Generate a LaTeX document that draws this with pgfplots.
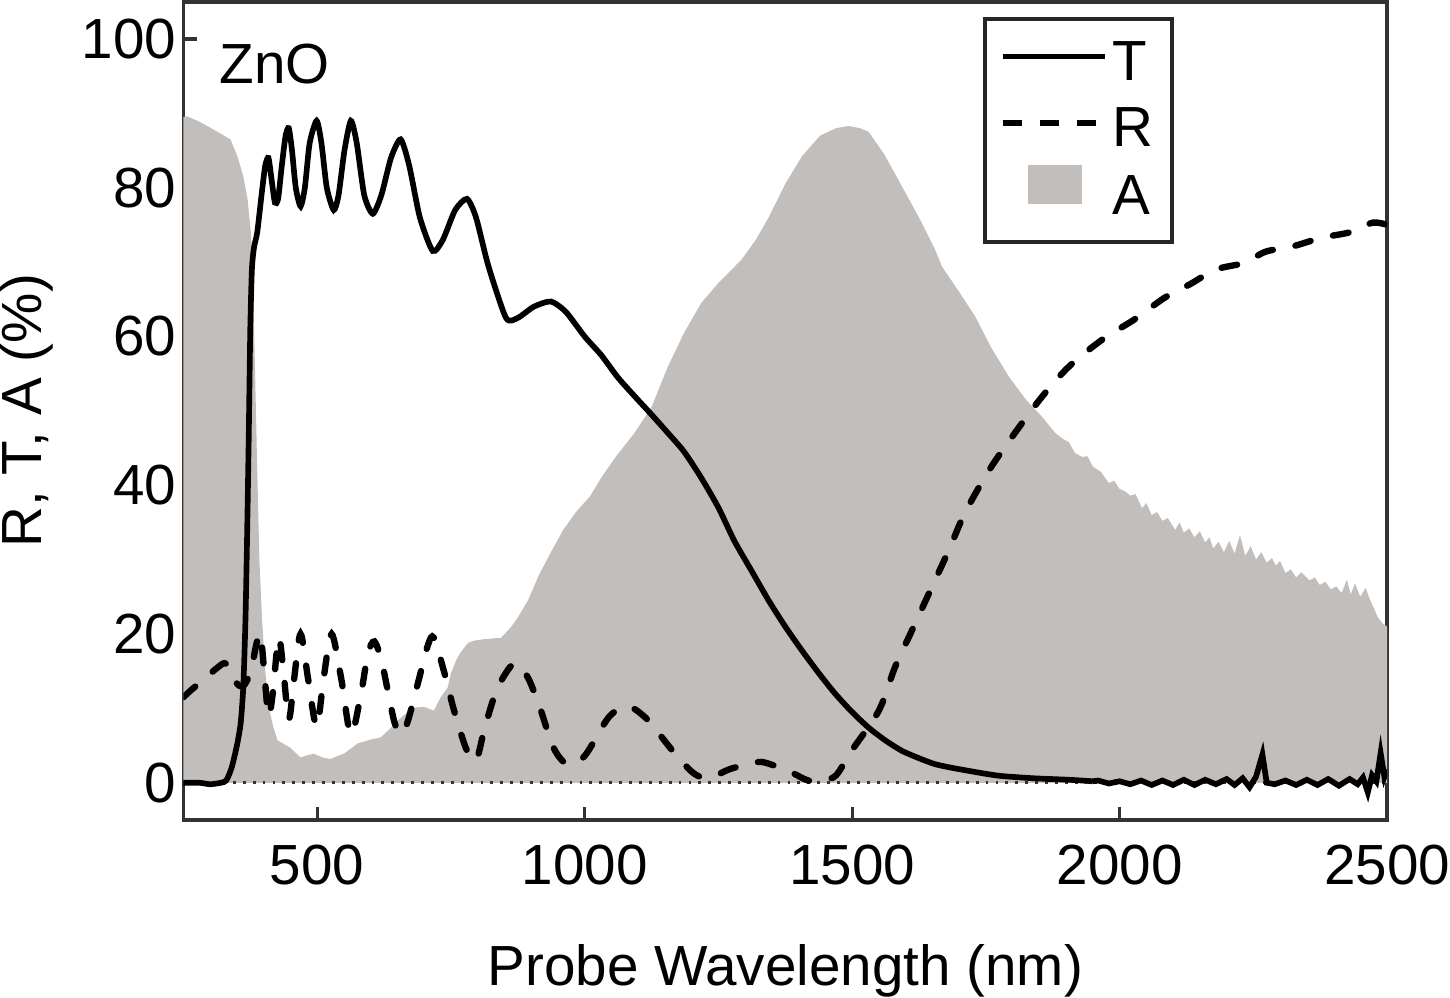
\documentclass[border=0pt]{standalone}
\usepackage{fontspec}
\setmainfont{Liberation Sans}
\usepackage{pgfplots}
\pgfplotsset{compat=1.18}
\definecolor{agray}{RGB}{193,190,188}

\begin{document}
\begin{tikzpicture}
\begin{axis}[
  scale only axis,
  width=11.96cm, height=8.13cm,
  xmin=250, xmax=2500, ymin=-5, ymax=105,
  xtick={500,1000,1500,2000,2500},
  ytick={0,20,40,60,80,100},
  tick pos=left, tick align=inside,
  major tick length=0.13cm,
  axis line style={line width=1pt, black!80},
  every tick/.style={line width=0.9pt, black!80},
  /pgf/number format/assume math mode=true,
  /pgf/number format/set thousands separator={},
  tick label style={font=\fontsize{16}{19}\selectfont},
  xticklabel style={inner sep=0pt, anchor=north, yshift=-7pt},
  yticklabel style={xshift=1.5pt},
  label style={font=\fontsize{16}{19}\selectfont},
  xlabel={Probe Wavelength (nm)},
  xlabel style={at={(axis description cs:0.5,0)}, anchor=north, inner sep=0pt, yshift=-35pt},
  ylabel={R, T, A (\%)},
  ylabel style={at={(axis description cs:-0.108,0.5)}, anchor=south, inner sep=0pt},
  legend style={at={(axis description cs:0.6647,0.9816)}, anchor=north west,
    draw=black!85, line width=1.1pt, fill=white,
    font=\fontsize{16}{19}\selectfont,
    inner xsep=4pt, inner ysep=3.8pt, row sep=1pt,
    nodes={inner ysep=2.6pt, inner xsep=1.2pt}},
  legend cell align=left,
]
% legend entries
\addlegendimage{legend image code/.code={\draw[black, line width=1.6pt] (0cm,0.2em) -- (1.02cm,0.2em);}}
\addlegendentry{T}
\addlegendimage{legend image code/.code={\draw[black, line width=1.7pt, dash pattern=on 5.5pt off 5pt] (0cm,0.2em) -- (1.02cm,0.2em);}}
\addlegendentry{R}
\addlegendimage{legend image code/.code={\fill[agray] (0.27cm,-0.04cm) rectangle (0.77cm,0.31cm);}}
\addlegendentry{A}

% A (absorption), filled to zero
\addplot[fill=agray, draw=none, forget plot] coordinates {
  (250,0) (250,89.5) (257,89.6) (282,88.8) (314,87.5) (338,86.5) (351,84.2)
  (362,81.5) (370,78.4) (376,74) (380,68) (384,55) (388,42) (392,30) (397,22)
  (403,15) (410,10) (418,7.5) (426,5.7) (438,5.2) (450,4.7) (460,4) (469,3.4)
  (482,3.7) (494,3.9) (510,3.4) (525,3.2) (538,3.6) (550,3.9) (563,4.6)
  (576,5.3) (600,5.8) (619,6.1) (635,7.2) (651,8.4) (666,9.3) (681,10.1)
  (700,10.2) (718,9.7) (731,11.5) (744,12.8) (750,14.7) (760,16.5) (769,17.6)
  (782,18.8) (793,19.1) (812,19.3) (844,19.5) (862,20.9) (875,22.2) (894,24.5)
  (915,28) (937,31) (960,34) (985,36.5) (1010,38.5) (1031,41) (1060,44)
  (1093,47) (1125,50.5) (1156,56) (1186,60.5) (1218,64.5) (1250,67.2)
  (1293,70.3) (1320,73) (1344,76) (1375,80.5) (1406,84.2) (1440,87) (1470,88)
  (1493,88.3) (1515,88) (1531,87.5) (1560,84.5) (1593,80.2) (1625,76)
  (1655,71.7) (1668,69.4) (1700,66) (1730,62.7) (1760,58.5) (1793,54.6)
  (1825,51.5) (1855,49.2) (1880,47) (1895,46.2) (1905,45.8) (1917,44.3)
  (1930,43.8) (1940,43.9) (1950,42.5) (1965,41.8) (1980,40.3) (1990,40.6)
  (2000,39.5) (2010,39.2) (2020,38.6) (2030,38.8) (2042,36.9) (2050,37.6)
  (2060,36) (2070,36.4) (2080,35.2) (2090,35.6) (2104,34) (2112,35)
  (2120,33.6) (2130,34.2) (2140,33) (2150,33.8) (2160,32.3) (2168,33)
  (2175,31.5) (2185,32.4) (2195,31) (2205,32.5) (2215,30.8) (2225,33.3)
  (2235,30.5) (2245,31.8) (2255,30) (2265,31) (2275,29.6) (2285,30.2)
  (2292,29.2) (2300,29.8) (2310,28.2) (2320,28.7) (2330,27.6) (2340,28.3)
  (2355,27.2) (2365,27.6) (2374,26.6) (2385,27) (2395,26) (2405,26.4)
  (2415,25.5) (2425,27.3) (2432,25.3) (2440,26.8) (2450,25) (2460,26.2)
  (2467,24.8) (2475,23.5) (2483,22.2) (2492,21.4) (2500,21) (2500,0)
} -- cycle;

% zero line
\addplot[black!80, dotted, line width=0.8pt, forget plot] coordinates {(250,0) (2500,0)};

% R (reflection)
\addplot[black, line width=1.8pt, dash pattern=on 4.5pt off 6.5pt, line cap=round,
  smooth, tension=0.5, forget plot] coordinates {
  (250,11.5) (265,12.5) (290,14) (314,15.5) (330,16) (348,13.5) (362,13)
  (376,15) (386,18.5) (394,20) (401,15) (409,9) (417,12) (428,19.5) (437,15)
  (447,8.5) (457,14) (469,20) (483,14) (499,7.5) (512,14) (527,20) (545,14)
  (563,6.5) (582,12) (595,17.4) (607,19) (620,16.5) (632,12.4) (645,8)
  (658,6.5) (670,8.4) (688,13.3) (707,18.5) (718,19.5) (737,15) (756,9.7)
  (779,4.5) (797,3) (813,7.3) (835,12.4) (860,15.5) (875,16) (895,14)
  (916,10.2) (942,4.7) (968,2.5) (1000,3.6) (1045,8.8) (1080,10.3) (1113,8.8)
  (1140,6.5) (1169,3.9) (1200,1.5) (1220,0.7) (1240,0.8) (1270,1.8)
  (1306,2.5) (1330,2.8) (1355,2.3) (1381,1.6) (1418,0.3) (1445,0.3) (1470,1)
  (1499,4.3) (1550,9.7) (1580,15.5) (1612,20.5) (1649,26.3) (1681,31.3)
  (1711,36.3) (1756,42) (1799,46.5) (1855,51.9) (1906,56) (1968,59.6)
  (2028,62.3) (2084,65.2) (2131,67) (2180,69) (2233,69.9) (2273,71.4)
  (2323,72.1) (2379,73.3) (2430,74) (2473,75.3) (2500,75)
};

% T (transmission)
\addplot[black, line width=1.6pt, smooth, tension=0.4, forget plot] coordinates {
  (250,0) (280,0) (300,-0.2) (320,0) (330,0.3) (340,2) (350,5) (357,8)
  (362,13) (366,22) (369,33) (372,46) (375,61) (378,69) (382,72) (388,74)
  (396,79) (403,83) (409,84) (415,81) (421,78) (427,78.5) (434,83) (441,87)
  (447,88) (453,85) (460,80) (469,77.5) (477,80) (486,86) (499,89) (508,86)
  (518,80) (531,77) (540,79) (551,85) (563,89) (574,86) (588,79) (604,76.5)
  (620,79) (638,84) (656,86.5) (672,83) (692,76) (716,71.5) (735,73)
  (758,77) (780,78.5) (797,76) (820,69.5) (853,62.5) (875,62.5) (905,64)
  (937,64.7) (965,63.3) (1000,60) (1031,57.5) (1062,54.5) (1093,52)
  (1125,49.5) (1156,47) (1186,44.5) (1218,41) (1250,37) (1280,32.5)
  (1312,28.5) (1344,24.5) (1375,21) (1406,17.8) (1437,14.8) (1468,12)
  (1500,9.5) (1531,7.4) (1562,5.7) (1593,4.3) (1625,3.3) (1655,2.5)
  (1687,2) (1718,1.6) (1750,1.2) (1780,0.9) (1840,0.6) (1906,0.4) (1950,0.2)
};
\addplot[black, line width=1.6pt, forget plot] coordinates {
  (1950,0.2) (1960,0.3) (1980,-0.1) (2000,0.2) (2020,-0.2) (2040,0.3)
  (2060,-0.3) (2080,0.3) (2100,-0.3) (2120,0.4) (2140,-0.3) (2160,0.4)
  (2180,-0.2) (2200,0.5) (2215,-0.3) (2230,0.6) (2243,-0.6) (2255,0.8) (2267,3.8)
  (2275,0) (2290,-0.2) (2310,0.3) (2330,-0.3) (2350,0.4) (2370,-0.3)
  (2390,0.5) (2410,-0.4) (2430,0.5) (2445,-0.2) (2455,0.7) (2464,-1.3)
  (2472,1) (2480,0.2) (2488,4) (2495,0.8) (2500,1.8)
};

\node[anchor=west, inner sep=0pt, font=\fontsize{16}{19}\selectfont] at (axis cs:316,96.6) {ZnO};
\end{axis}
\end{tikzpicture}
\end{document}
